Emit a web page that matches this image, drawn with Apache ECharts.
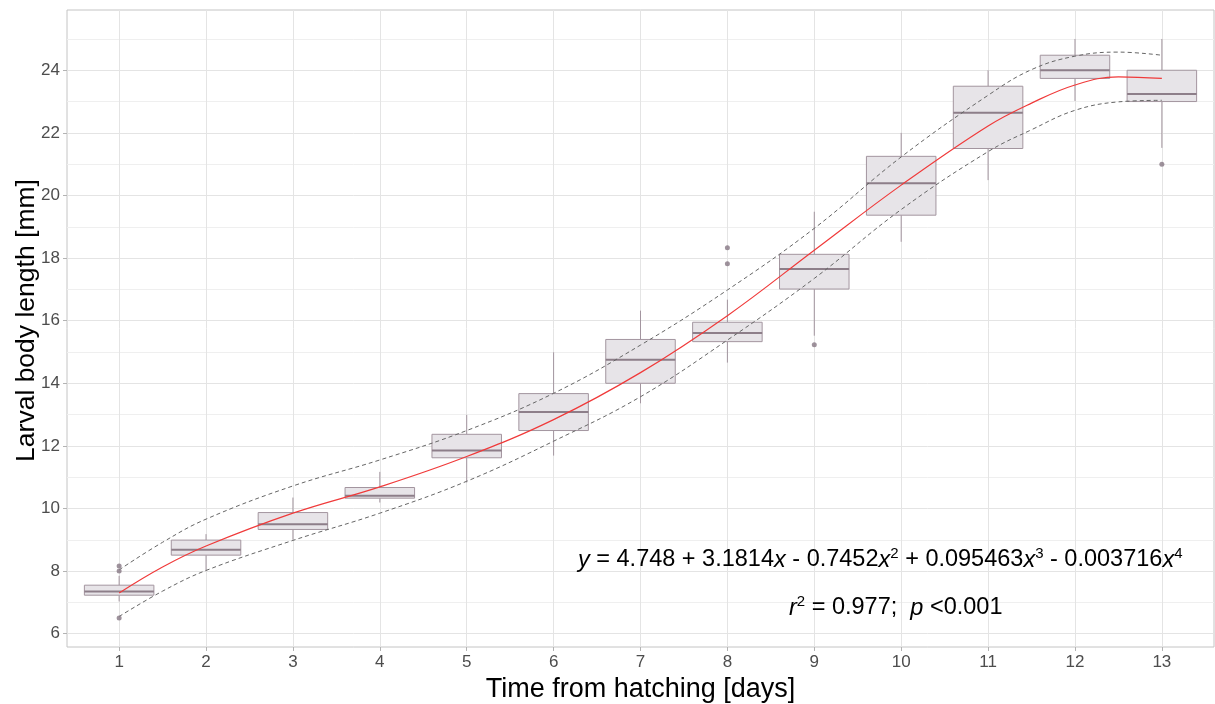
<!DOCTYPE html>
<html>
<head>
<meta charset="utf-8">
<title>Larval body length</title>
<script src="https://cdn.jsdelivr.net/npm/echarts@6.0.0/dist/echarts.min.js"></script>
<style>
  html, body { margin: 0; padding: 0; background: #fff; }
  #chart { width: 1215px; height: 704px; }
</style>
</head>
<body>
<div id="chart"></div>
<script>
// 箱线图数据（按天）
const days = [1, 2, 3, 4, 5, 6, 7, 8, 9, 10, 11, 12, 13];
const whiskerLow  = [7.03, 8.00, 9.00, 10.19, 10.83, 11.69, 13.36, 14.66, 15.52, 18.52, 20.49, 23.02, 21.52];
const q1          = [7.23, 8.51, 9.33, 10.33, 11.62, 12.49, 14.00, 15.33, 17.01, 19.37, 21.50, 23.74, 23.00];
const median      = [7.35, 8.68, 9.50, 10.41, 11.85, 13.08, 14.75, 15.61, 17.65, 20.39, 22.64, 24.00, 23.24];
const q3          = [7.55, 8.99, 9.87, 10.67, 12.37, 13.67, 15.40, 15.95, 18.12, 21.25, 23.49, 24.48, 24.00];
const whiskerHigh = [7.85, 9.18, 10.35, 11.17, 12.99, 14.99, 16.32, 16.67, 19.48, 22.00, 24.00, 25.00, 25.00];

// 离群点
const outlierDay   = [1, 1, 1, 8, 8, 9, 13];
const outlierValue = [8.16, 8.00, 6.50, 18.33, 17.82, 15.23, 21.00];

// 拟合曲线与置信带
const curveX    = [1, 1.5, 2, 3, 4, 5, 6, 7, 8, 9, 10, 11, 11.5, 12, 12.5, 13];
const fitY      = [7.30, 8.13, 8.80, 9.85, 10.69, 11.66, 12.84, 14.34, 16.16, 18.25, 20.33, 22.22, 22.95, 23.53, 23.79, 23.74];
const upperBand = [8.04, 8.92, 9.66, 10.72, 11.55, 12.49, 13.68, 15.22, 16.98, 18.95, 21.23, 23.20, 24.02, 24.45, 24.58, 24.48];
const lowerBand = [6.55, 7.36, 8.02, 8.98, 9.85, 10.87, 12.15, 13.57, 15.38, 17.35, 19.55, 21.40, 22.10, 22.72, 22.99, 23.04];

// 坐标轴刻度
const yMajorTicks = [6, 8, 10, 12, 14, 16, 18, 20, 22, 24];
const yMinorTicks = [7, 9, 11, 13, 15, 17, 19, 21, 23, 25];

const FONT = '"Liberation Sans", Arial, sans-serif';
const X_MIN = 0.4, X_MAX = 13.6;
const Y_MIN = 5.575, Y_MAX = 25.925;

const boxData = days.map((d, i) => [d, whiskerLow[i], q1[i], median[i], q3[i], whiskerHigh[i]]);
const toPairs = (ys) => curveX.map((x, i) => [x, ys[i]]);

// 自定义箱线图绘制
function renderBox(params, api) {
    const x = api.value(0);
    const half = 0.4;
    const pLo = api.coord([x, api.value(1)]);
    const pQ1 = api.coord([x, api.value(2)]);
    const pQ3 = api.coord([x, api.value(4)]);
    const pHi = api.coord([x, api.value(5)]);
    const tl = api.coord([x - half, api.value(4)]);
    const br = api.coord([x + half, api.value(2)]);
    const ml = api.coord([x - half, api.value(3)]);
    const mr = api.coord([x + half, api.value(3)]);
    const stroke = '#a3959f';
    return {
        type: 'group',
        children: [
            { type: 'line', shape: { x1: pLo[0], y1: pLo[1], x2: pQ1[0], y2: pQ1[1] }, style: { stroke: stroke, lineWidth: 1 } },
            { type: 'line', shape: { x1: pQ3[0], y1: pQ3[1], x2: pHi[0], y2: pHi[1] }, style: { stroke: stroke, lineWidth: 1 } },
            { type: 'rect', shape: { x: tl[0], y: tl[1], width: br[0] - tl[0], height: br[1] - tl[1] },
              style: { fill: '#e7e4e8', stroke: stroke, lineWidth: 1 } },
            { type: 'line', shape: { x1: ml[0], y1: ml[1], x2: mr[0], y2: mr[1] }, style: { stroke: '#8d7e89', lineWidth: 2 } }
        ]
    };
}

const chart = echarts.init(document.getElementById('chart'), null, { renderer: 'canvas' });

const richStyles = {
    i: { fontStyle: 'italic', fontSize: 23.5, fontFamily: FONT, lineHeight: 28 },
    s: { fontSize: 15, fontFamily: FONT, lineHeight: 15, verticalAlign: 'top' }
};

const option = {
    animation: false,
    backgroundColor: '#ffffff',
    grid: {
        left: 67, top: 10, right: 1, bottom: 57,
        outerBoundsMode: 'none', containLabel: false,
        show: true, borderColor: '#c4c4c4', borderWidth: 1, backgroundColor: '#ffffff'
    },
    xAxis: {
        type: 'value', min: X_MIN, max: X_MAX,
        name: 'Time from hatching [days]', nameLocation: 'middle', nameGap: 29,
        nameTextStyle: { fontFamily: FONT, fontSize: 27, color: '#000' },
        axisLine: { show: false },
        axisTick: { show: true, length: 4, customValues: days, lineStyle: { color: '#b3b3b3' } },
        axisLabel: { customValues: days, margin: 7, fontFamily: FONT, fontSize: 17, color: '#4d4d4d' },
        splitLine: { show: true, lineStyle: { color: '#e4e4e4', width: 1 } }
    },
    yAxis: [{
        type: 'value', min: Y_MIN, max: Y_MAX,
        name: 'Larval body length [mm]', nameLocation: 'middle', nameGap: 27, nameRotate: 90,
        nameMoveOverlap: false,
        nameTextStyle: { fontFamily: FONT, fontSize: 26.5, color: '#000', padding: [0, 0, 0, 16] },
        axisLine: { show: false },
        axisTick: { show: true, length: 4, customValues: yMajorTicks, lineStyle: { color: '#b3b3b3' } },
        axisLabel: { customValues: yMajorTicks, margin: 7, fontFamily: FONT, fontSize: 17, color: '#4d4d4d' },
        splitLine: { show: true, lineStyle: { color: '#e4e4e4', width: 1 } }
    }, {
        type: 'value', min: Y_MIN, max: Y_MAX, position: 'left',
        axisLine: { show: false },
        axisTick: { show: false, customValues: yMinorTicks },
        axisLabel: { show: false, customValues: yMinorTicks },
        splitLine: { show: true, lineStyle: { color: '#efefef', width: 1 } }
    }],
    series: [
        {
            type: 'custom', name: 'box', renderItem: renderBox,
            data: boxData, encode: { x: 0, y: [1, 2, 3, 4, 5] }, z: 2
        },
        {
            type: 'line', name: 'fit', data: toPairs(fitY), smooth: 0.4, showSymbol: false,
            lineStyle: { color: '#f03a3a', width: 1.2 }, z: 4
        },
        {
            type: 'line', name: 'upper', data: toPairs(upperBand), smooth: 0.4, showSymbol: false,
            lineStyle: { color: '#666666', width: 1, type: [4, 3] }, z: 3
        },
        {
            type: 'line', name: 'lower', data: toPairs(lowerBand), smooth: 0.4, showSymbol: false,
            lineStyle: { color: '#666666', width: 1, type: [4, 3] }, z: 3
        },
        {
            type: 'scatter', name: 'outliers', symbolSize: 5,
            data: outlierDay.map((d, i) => [d, outlierValue[i]]),
            itemStyle: { color: '#867783' }, z: 5
        }
    ],
    graphic: [
        {
            type: 'text', left: 578, top: 546, z: 10,
            style: {
                text: '{i|y} = 4.748 + 3.1814{i|x} - 0.7452{i|x}{s|2} + 0.095463{i|x}{s|3} - 0.003716{i|x}{s|4}',
                font: '23.5px ' + FONT, fill: '#000', lineHeight: 28, rich: richStyles
            }
        },
        {
            type: 'text', left: 789, top: 594, z: 10,
            style: {
                text: '{i|r}{s|2} = 0.977;  {i|p} <0.001',
                font: '23.5px ' + FONT, fill: '#000', lineHeight: 28, rich: richStyles
            }
        }
    ]
};

chart.setOption(option);
</script>
</body>
</html>
